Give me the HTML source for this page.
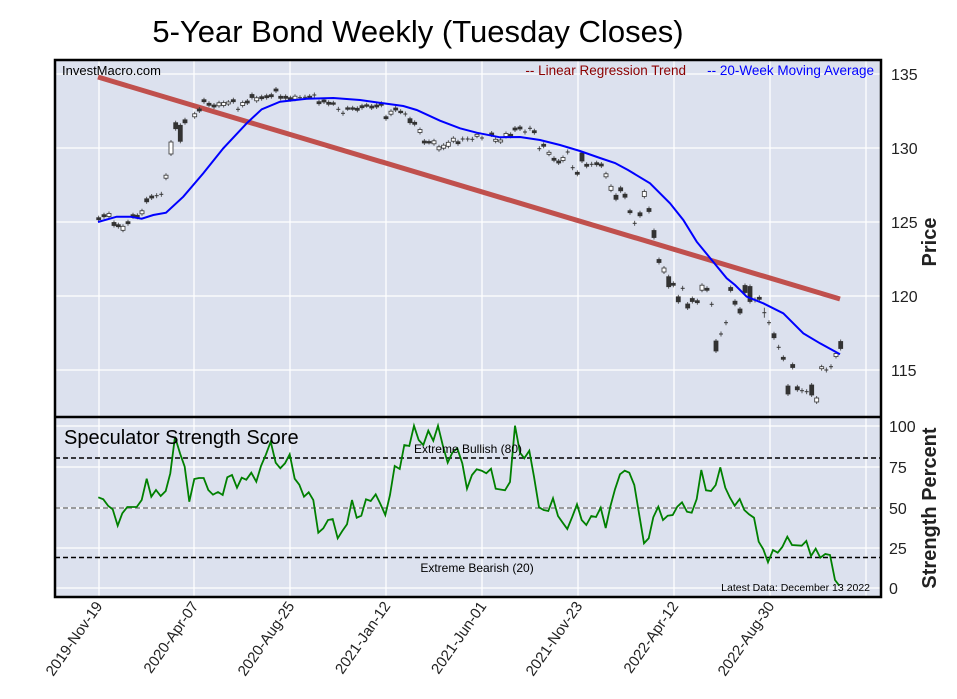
<!DOCTYPE html>
<html><head><meta charset="utf-8"><style>
body{margin:0;background:#fff;width:957px;height:694px;overflow:hidden}
svg{font-family:"Liberation Sans",sans-serif}
</style></head><body>
<svg id="s" width="957" height="694" xmlns="http://www.w3.org/2000/svg">
<rect x="55" y="60" width="826" height="537" fill="#dce1ee"/>
<g id="grid" stroke="#fff" stroke-width="1.3"></g>
<line x1="98" y1="77" x2="840" y2="299" stroke="#c0504d" stroke-width="5"/>
<g id="candles"></g>
<polyline id="ma" fill="none" stroke="#0000ff" stroke-width="2"/>
<line x1="55" y1="458" x2="881" y2="458" stroke="#000" stroke-width="1.6" stroke-dasharray="5,3"/>
<line x1="55" y1="508" x2="881" y2="508" stroke="#808080" stroke-width="1.6" stroke-dasharray="5,3"/>
<line x1="55" y1="557.5" x2="881" y2="557.5" stroke="#000" stroke-width="1.6" stroke-dasharray="5,3"/>
<polyline id="ss" fill="none" stroke="#008000" stroke-width="1.8"/>
<rect x="55" y="60" width="826" height="537" fill="none" stroke="#000" stroke-width="2.5"/>
<line x1="55" y1="417" x2="881" y2="417" stroke="#000" stroke-width="2.5"/>
<text x="418" y="42" font-size="31" text-anchor="middle">5-Year Bond Weekly (Tuesday Closes)</text>
<text x="62" y="75" font-size="13">InvestMacro.com</text>
<text x="686" y="75" font-size="13.5" fill="#8b0000" text-anchor="end">-- Linear Regression Trend</text>
<text x="874" y="75" font-size="13.5" fill="#0000ff" text-anchor="end">-- 20-Week Moving Average</text>
<text x="64" y="444" font-size="20">Speculator Strength Score</text>
<text x="468" y="453" font-size="12" text-anchor="middle">Extreme Bullish (80)</text>
<text x="477" y="572" font-size="12" text-anchor="middle">Extreme Bearish (20)</text>
<text x="870" y="591" font-size="10.5" text-anchor="end">Latest Data: December 13 2022</text>
<g font-size="16" fill="#222">
<text x="891" y="80">135</text><text x="891" y="154">130</text><text x="891" y="228">125</text><text x="891" y="302">120</text><text x="891" y="376">115</text>
<text x="889" y="432">100</text><text x="889" y="473">75</text><text x="889" y="514">50</text><text x="889" y="554">25</text><text x="889" y="594">0</text>
</g>
<text transform="translate(936,242) rotate(-90)" font-size="20" font-weight="bold" text-anchor="middle" fill="#222">Price</text>
<text transform="translate(936,508) rotate(-90)" font-size="20" font-weight="bold" text-anchor="middle" fill="#222">Strength Percent</text>
<g id="xl" font-size="15" fill="#222"></g>
</svg>
<script>
var NS="http://www.w3.org/2000/svg";
function el(p,t,a,txt){var e=document.createElementNS(NS,t);for(var k in a)e.setAttribute(k,a[k]);if(txt)e.textContent=txt;document.getElementById(p).appendChild(e);return e;}
[99,194,290,386,482,578,674,770,866].forEach(function(x){el("grid","line",{x1:x,y1:60,x2:x,y2:597});});
[74,148,222,296,370,426,467,508,548,588].forEach(function(y){el("grid","line",{x1:55,y1:y,x2:881,y2:y});});
var labs=["2019-Nov-19","2020-Apr-07","2020-Aug-25","2021-Jan-12","2021-Jun-01","2021-Nov-23","2022-Apr-12","2022-Aug-30"];
labs.forEach(function(l,i){var x=99+i*96;el("xl","text",{x:0,y:0,"text-anchor":"end",transform:"translate("+(x+4)+",606) rotate(-55)"},l);});
var ma=[[98,222],[116.7,216.7],[130,216.7],[141.7,218.7],[153.3,215],[166,212.7],[183.3,196.7],[203.3,173.3],[223.3,148.3],[246.7,123.3],[261.7,109.3],[280,101.7],[306.7,98.7],[333.3,98],[360,100],[383.3,103.3],[403.3,106],[416.7,110],[440,120.7],[460,128.3],[476.7,132.7],[500,137.3],[520,137],[540,140],[560,145],[580,151],[600,158],[615,163],[628,170],[650,183.3],[670,203.3],[683.3,220],[696.7,241.7],[711.7,260],[726.7,278.3],[735,285],[746.7,296.7],[763.3,303.3],[783.3,313.3],[803.3,333.3],[820,343.3],[840,354.3]];
document.getElementById("ma").setAttribute("points",ma.map(function(p){return p.join(",")}).join(" "));
var ss=[[98.3,497.3],[103.3,499.3],[108.3,506],[112.7,509.3],[117.7,525.7],[122.3,513.3],[127.3,507],[136.7,507],[141.7,500],[146.7,478.7],[151.3,496.7],[156,490],[160.7,496],[165.7,491],[170.3,473.3],[175,436.7],[180,453.3],[184.7,466.7],[189.3,501.7],[194.3,479],[199,478],[203.7,478],[208.3,490],[213,494.7],[218,492],[222.7,495],[227.3,477.3],[232,475],[237,487.7],[241.7,477.7],[246.3,479.7],[251.3,472.7],[256.3,481.7],[261,466],[266,454.3],[270.7,441.7],[275.7,462.7],[280.3,468.3],[285,463.3],[289.7,454.3],[294.7,478.7],[299.3,484.7],[304,496.7],[308.7,492.3],[313.3,500],[318.3,532.7],[323.3,528.3],[328,520],[332.7,519],[337.7,538.3],[342.3,531],[347,524.3],[352,500],[356.7,517.7],[361.3,515.7],[366,499.3],[370.7,501],[375.7,494.3],[380.3,503.7],[385.3,515],[390,495],[394.7,466],[399.7,469],[404.3,445],[409.3,446],[414,425.7],[418.7,440],[423.3,445],[428.3,430.7],[433.3,440.7],[438,425.7],[442.7,445],[447.7,462.7],[452.3,452.7],[457.3,448.3],[462.3,463.3],[467,488.7],[472,475],[476.7,469.3],[481.7,470.7],[486.3,473.3],[491,468.7],[495.7,488.7],[505,490.3],[510,482],[515,425.7],[520,452.7],[524.3,458.3],[529.3,450.7],[534,476.7],[539,507.3],[543.7,510],[548.3,511],[553,498.3],[558,516],[562.7,522.7],[567.3,529],[572.3,516.7],[577,504.3],[581.7,520],[586.3,525],[591.3,516],[596,517],[600.7,507.7],[605.7,528],[610.3,506.7],[615,489.3],[620,474.3],[624.7,470.7],[629.3,472.7],[634.3,485],[639,513.3],[644,543.3],[648.7,538.3],[653.3,517.3],[658.3,506.7],[663,520],[667.7,515.7],[672.7,515],[677.3,506.7],[682,502.3],[687,511.7],[691.7,512.7],[696.7,499],[701.3,470],[706,490.3],[711,491],[715.7,485],[720.3,467.3],[725.3,487.7],[730,497.7],[734.7,505.7],[739.7,499],[744.3,510],[749,514.3],[754,517.7],[758.7,541.7],[763.3,549.3],[768,562.3],[773,550],[777.7,552.7],[782.3,547],[787.3,536.7],[792,545],[801.7,545.7],[806.3,541],[811,556],[815.7,548.7],[820.3,557.7],[825.3,554],[830,555],[835,580],[839.3,585.7]];
document.getElementById("ss").setAttribute("points",ss.map(function(p){return p.join(",")}).join(" "));
var c=[[98.7,218.7,2,0],[104,215.7,2,0],[109,215,3,1],[114,224,3,0],[118.3,225.7,2,0],[123,228.3,4,1],[128,222.7,2,0],[133,215.7,2,0],[137.3,216.3,2,0],[142,212.3,3,1],[146.7,200.3,3,0],[151.7,197,2,0],[156.7,195.7,1,2],[161.3,194.3,1,2],[166,176.7,3,1],[171,148,12,1],[175.7,125.7,6,0],[180.3,133.3,16,0],[185,121.3,3,0],[194.7,115.3,3,1],[199.3,110,2,0],[204,100.7,2,0],[209,104.3,2,0],[214,106,2,0],[219,104.3,3,1],[223.7,104,3,1],[228.3,103,2,1],[233.3,100.7,2,0],[238,109.3,1,2],[242.7,104,3,1],[247.3,102,2,0],[252,96,3,0],[256.7,99.3,3,1],[261.7,97.7,2,0],[266.7,96.7,2,0],[271.3,95.7,2,0],[276,90,2,0],[280.7,97.3,2,0],[285.7,97.3,2,0],[290.3,98.7,2,0],[295,97.7,3,1],[300,97.7,1,2],[305,97.3,1,2],[309.7,96.7,1,0],[314.3,95,1,2],[319,102.7,2,0],[324,101,2,0],[328.7,103.3,2,0],[333.3,103.3,1,0],[338.3,109.3,1,2],[343,113.3,1,2],[347.7,108.3,1,0],[352.7,108.3,1,0],[357.3,109.3,2,0],[362,106.7,2,0],[366.7,105.3,1,0],[371.7,107,2,0],[376.7,106,2,0],[381.3,104.3,2,0],[386,117.7,2,0],[391,112.7,3,1],[395.7,109,2,0],[400.7,111.7,1,0],[405.3,114,1,2],[410,120.7,4,0],[414.7,123.3,2,0],[420,131,3,1],[424.3,142,2,0],[429,142,1,0],[434,142.3,3,1],[439,148.3,3,1],[443.7,146.7,3,1],[448.3,144.3,4,1],[453.3,139.7,3,1],[458,142.7,2,0],[462.7,139,1,2],[467.7,139,1,2],[472.3,139.3,1,2],[477,135.3,2,1],[482,138,1,2],[491.7,134,2,0],[495.7,140.3,2,1],[500.7,141,2,1],[506,135,3,1],[510.7,135.3,2,0],[515,129,2,0],[520,128,2,0],[525,132,1,2],[530,128.3,1,2],[534.3,131.7,2,0],[539.3,148.7,1,2],[543.7,145.3,2,0],[549,153.3,2,1],[554,159.3,2,0],[558.7,162,2,0],[563,159,3,1],[567.7,152,1,2],[572.7,167.7,1,2],[577.3,173.3,2,0],[582,157,8,0],[586.7,165.3,2,0],[591.7,164.3,1,2],[596.7,163.7,2,0],[601.3,165,2,0],[606,175.3,3,1],[611,188.3,4,1],[616,197.3,4,0],[620.7,189.3,3,0],[625,195.7,3,0],[630,211.7,2,0],[634.7,223.3,1,2],[640,214.3,3,0],[644.3,194,5,1],[649,210,3,0],[654,234,7,0],[659,261,3,0],[664,270,4,1],[668.7,281.7,10,0],[673.3,284.3,2,0],[678.3,299.3,5,0],[682.7,288.3,1,2],[687.7,306,4,0],[692.3,300,3,0],[697.3,301.7,2,0],[702,287.7,5,1],[707,289.3,2,0],[711.7,304.3,1,2],[716,346,10,0],[721,334,1,2],[726,322.7,1,2],[730.7,289,3,0],[735,302.7,3,0],[740,311,4,0],[745,289,7,0],[750,294,15,0],[755,300,1,2],[759.3,298.3,2,0],[764.3,312.7,6,2],[769,322.7,1,2],[774,335.7,4,0],[778.7,347.3,1,2],[783.3,358.3,2,0],[788,390,8,0],[792.7,366,3,0],[797.3,388.3,3,0],[802,390.7,1,2],[806.7,391.7,1,2],[811.7,390,10,0],[816.7,400,4,1],[821.7,367.7,2,1],[826.3,370,1,2],[831,366.7,1,2],[836,355,3,1],[840.7,345,7,0]];
c.forEach(function(d){var x=d[0],y=d[1],h=d[2],t=d[3];
 el("candles","line",{x1:x,y1:y-h/2-2,x2:x,y2:y+h/2+2,stroke:"#333","stroke-width":0.8});
 if(t==2){el("candles","line",{x1:x-2,y1:y,x2:x+2,y2:y,stroke:"#333","stroke-width":1});}
 else el("candles","rect",{x:x-2,y:y-h/2,width:4,height:Math.max(h,1.5),fill:t==1?"#fff":"#333",stroke:"#333","stroke-width":0.8});
});
</script>
</body></html>
